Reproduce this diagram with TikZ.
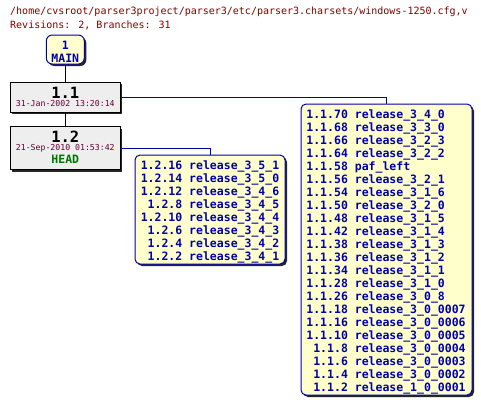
\documentclass[tikz,border=0pt]{standalone}
\usepackage{fontspec}
\setmonofont{DejaVu Sans Mono}
\newfontfamily\hdrfont{DejaVu Sans Mono}
\usetikzlibrary{shadows}
\definecolor{hdrred}{HTML}{800000}
\definecolor{datecol}{HTML}{660033}
\definecolor{tagblue}{HTML}{0000AA}
\definecolor{boxyellow}{HTML}{FFFFCC}
\definecolor{revgray}{HTML}{EEEEEE}
\definecolor{headgreen}{HTML}{007700}
\tikzset{
  shad/.style={general shadow={shadow xshift=2bp, shadow yshift=-2bp, fill=black!85}},
  tagbox/.style={shad, draw=tagblue, line width=1bp, fill=boxyellow, rounded corners=5bp, inner sep=0pt},
  revbox/.style={shad, draw=black, line width=1bp, fill=revgray, inner sep=0pt},
  listtext/.style={inner sep=0pt, text=tagblue, font=\ttfamily\bfseries\fontsize{11.5bp}{13bp}\selectfont},
  revnum/.style={inner sep=0pt, font=\ttfamily\bfseries\fontsize{15.5bp}{17bp}\selectfont},
  datetext/.style={inner sep=0pt, text=datecol, font=\ttfamily\fontsize{8.2bp}{10bp}\selectfont},
  hdr/.style={inner sep=0pt, anchor=west, text=hdrred, font=\hdrfont\fontsize{10bp}{12bp}\selectfont},
  trunk/.style={draw=black, line width=1bp},
  branch/.style={draw=tagblue, line width=1bp},
}
\begin{document}
\begin{tikzpicture}[x=1bp, y=-1bp]
\useasboundingbox (0,0) rectangle (481,406);
\node[hdr] (h1) at (10,12) {/home/cvsroot/parser3project/parser3/etc/parser3.charsets/windows-1250.cfg,v};
\node[hdr] (h2) at (10,25) {Revisions: 2, Branches: 31};

% MAIN
\node[tagbox, rounded corners=6bp, minimum width=38bp, minimum height=29bp] (main) at (65.3,49.5) {};
\node[listtext] (mainA) at (65.3,45) {1};
\node[listtext] (mainB) at (65.3,58) {MAIN};

% 1.1
\node[revbox, minimum width=110bp, minimum height=30bp] (r11) at (65.3,97) {};
\node[revnum] (r11n) at (65.3,92.5) {1.1};
\node[datetext] (r11d) at (65.3,104) {31-Jan-2002 13:20:14};

% 1.2
\node[revbox, minimum width=110bp, minimum height=43bp] (r12) at (65.3,148) {};
\node[revnum] (r12n) at (65.3,136.5) {1.2};
\node[datetext] (r12d) at (65.3,148) {21-Sep-2010 01:53:42};
\node[inner sep=0pt, text=headgreen, font=\ttfamily\bfseries\fontsize{11.5bp}{13bp}\selectfont] (r12h) at (65.3,159) {HEAD};

% small list
\node[tagbox, minimum width=150bp, minimum height=109bp] (b12) at (210,209.5) {};
\node[listtext] (t12) at (210,212.6) {\begin{tabular}{@{}r@{\ }l@{}}
1.2.16 & release\_3\_5\_1\\
1.2.14 & release\_3\_5\_0\\
1.2.12 & release\_3\_4\_6\\
1.2.8 & release\_3\_4\_5\\
1.2.10 & release\_3\_4\_4\\
1.2.6 & release\_3\_4\_3\\
1.2.4 & release\_3\_4\_2\\
1.2.2 & release\_3\_4\_1
\end{tabular}};

% big list
\node[tagbox, minimum width=171bp, minimum height=291bp] (b11) at (386.5,249.5) {};
\node[listtext] (t11) at (386,252.1) {\begin{tabular}{@{}r@{\ }l@{}}
1.1.70 & release\_3\_4\_0\\
1.1.68 & release\_3\_3\_0\\
1.1.66 & release\_3\_2\_3\\
1.1.64 & release\_3\_2\_2\\
1.1.58 & paf\_left\\
1.1.56 & release\_3\_2\_1\\
1.1.54 & release\_3\_1\_6\\
1.1.50 & release\_3\_2\_0\\
1.1.48 & release\_3\_1\_5\\
1.1.42 & release\_3\_1\_4\\
1.1.38 & release\_3\_1\_3\\
1.1.36 & release\_3\_1\_2\\
1.1.34 & release\_3\_1\_1\\
1.1.28 & release\_3\_1\_0\\
1.1.26 & release\_3\_0\_8\\
1.1.18 & release\_3\_0\_0007\\
1.1.16 & release\_3\_0\_0006\\
1.1.10 & release\_3\_0\_0005\\
1.1.8 & release\_3\_0\_0004\\
1.1.6 & release\_3\_0\_0003\\
1.1.4 & release\_3\_0\_0002\\
1.1.2 & release\_1\_0\_0001
\end{tabular}};

% connectors
\draw[trunk] (main.south) -- (r11.north);
\draw[trunk] (r11.south) -- (r12.north);
\draw[branch] (r11.east) -| (b11.north);
\draw[branch] (r12.east) -| (b12.north);
\end{tikzpicture}
\end{document}
